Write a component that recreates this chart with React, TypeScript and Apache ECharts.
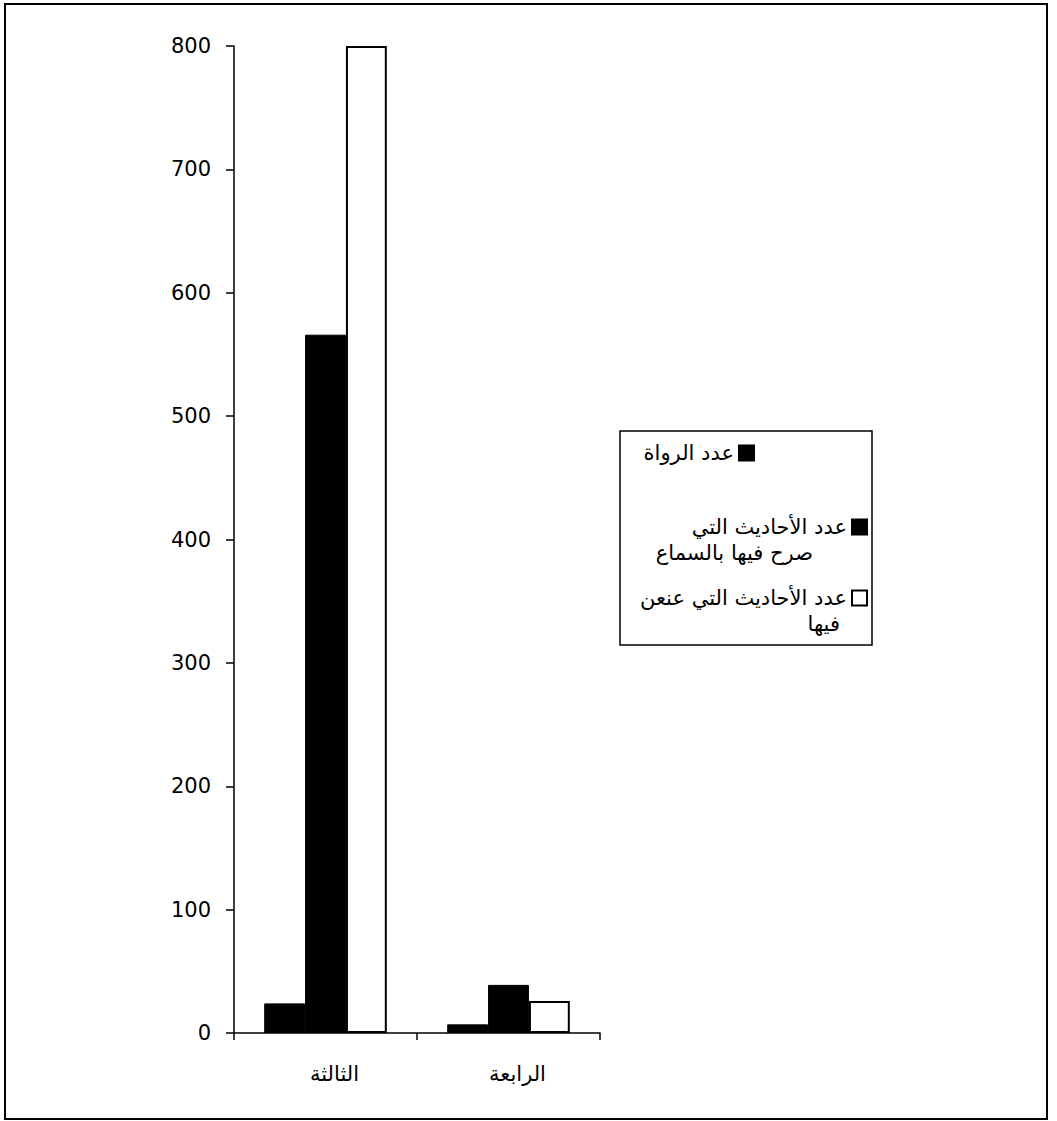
import React, { useEffect, useRef } from "react";
import * as echarts from "echarts";

const categories = ["الثالثة", "الرابعة"];
const seriesNames = [
  "عدد الرواة",
  "عدد الأحاديث التي\nصرح فيها بالسماع",
  "عدد الأحاديث التي عنعن\nفيها",
];
const narrators = [24, 7];
const heardHadiths = [566, 39];
const anAnHadiths = [800, 26];
const yTicks = { min: 0, max: 800, interval: 100 };

const FONT = "'DejaVu Sans', 'Liberation Sans', Arial, sans-serif";

export default function App() {
  const ref = useRef<HTMLDivElement>(null);
  useEffect(() => {
    document.body.style.margin = "0";
    const chart = echarts.init(ref.current!, null, { renderer: "svg" });
    const legendText = {
      fontFamily: FONT,
      fontSize: 21,
      color: "#000",
      lineHeight: 26,
      rich: {
        a: { fontFamily: FONT, fontSize: 21, color: "#000", lineHeight: 26 },
        b: { fontFamily: FONT, fontSize: 21, color: "#000", lineHeight: 26, padding: [0, 34, 0, 0] },
        c: { fontFamily: FONT, fontSize: 21, color: "#000", lineHeight: 26, padding: [0, 7, 0, 0] },
      },
    };
    const common = {
      orient: "vertical",
      align: "right",
      padding: 0,
      icon: "rect",
      itemWidth: 15,
      itemHeight: 15,
      itemGap: 0,
      selectedMode: false,
      textStyle: legendText,
    };
    const twoLine = (style: string) => (n: string) => {
      const [l1, l2] = n.split("\n");
      return "\n{a|" + l1 + "}\n{" + style + "|" + l2 + "}";
    };
    const option: any = {
      animation: false,
      backgroundColor: "#fff",
      textStyle: { fontFamily: FONT },
      grid: { left: 234, top: 46, width: 366, height: 987, containLabel: false },
      xAxis: {
        type: "category",
        data: categories,
        axisLine: { lineStyle: { color: "#000", width: 1.5 } },
        axisTick: { show: true, length: 7, alignWithLabel: false, lineStyle: { color: "#000", width: 1.5 } },
        axisLabel: { color: "#000", fontSize: 21, margin: 30, fontFamily: FONT, padding: [0, 0, 0, 18] },
        splitLine: { show: false },
      },
      yAxis: {
        type: "value",
        min: yTicks.min,
        max: yTicks.max,
        interval: yTicks.interval,
        axisLine: { show: true, lineStyle: { color: "#000", width: 1.5 } },
        axisTick: { show: true, length: 8, lineStyle: { color: "#000", width: 1.5 } },
        axisLabel: { color: "#000", fontSize: 21, margin: 23, fontFamily: FONT },
        splitLine: { show: false },
      },
      legend: [
        {
          ...common,
          data: [seriesNames[0]],
          right: 302,
          top: 440,
        },
        {
          ...common,
          data: [seriesNames[1]],
          right: 189,
          top: 488,
          formatter: twoLine("b"),
        },
        {
          ...common,
          data: [seriesNames[2]],
          right: 189,
          top: 559,
          formatter: twoLine("c"),
        },
      ],
      graphic: [
        {
          type: "rect",
          z: -10,
          shape: { x: 5, y: 4, width: 1042, height: 1115 },
          style: { fill: "#fff", stroke: "#000", lineWidth: 2 },
          silent: true,
        },
        {
          type: "rect",
          z: -5,
          shape: { x: 620, y: 431, width: 252, height: 214 },
          style: { fill: "#fff", stroke: "#000", lineWidth: 1.5 },
          silent: true,
        },
      ],
      series: [
        {
          name: seriesNames[0],
          type: "bar",
          data: narrators,
          barGap: "0%",
          barCategoryGap: "33%",
          itemStyle: { color: "#000", borderColor: "#000", borderWidth: 1 },
        },
        {
          name: seriesNames[1],
          type: "bar",
          data: heardHadiths,
          itemStyle: { color: "#000", borderColor: "#000", borderWidth: 1 },
        },
        {
          name: seriesNames[2],
          type: "bar",
          data: anAnHadiths,
          itemStyle: { color: "#fff", borderColor: "#000", borderWidth: 2 },
        },
      ],
    };
    chart.setOption(option);
    return () => chart.dispose();
  }, []);
  return <div ref={ref} style={{ width: 1057, height: 1121 }} />;
}
